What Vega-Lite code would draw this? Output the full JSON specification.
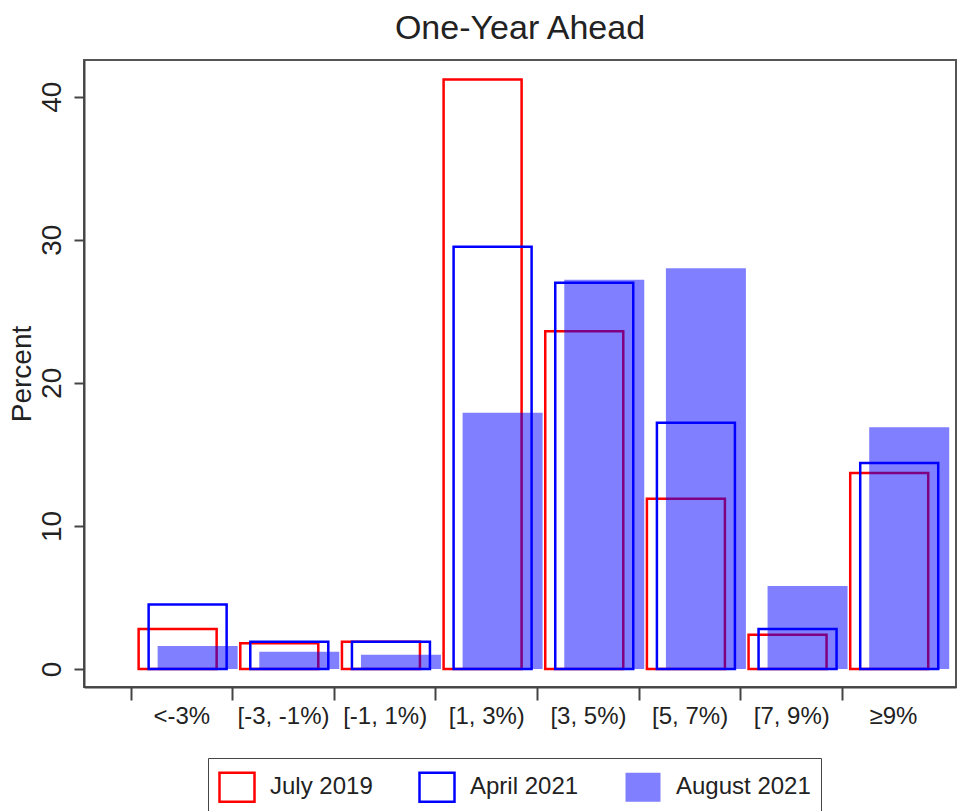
{
  "$schema": "https://vega.github.io/schema/vega-lite/v6.json",
  "width": 872,
  "height": 627,
  "autosize": {"type": "none"},
  "padding": {"left": 84, "top": 60, "right": 2, "bottom": 124},
  "background": "white",
  "title": {
    "text": "One-Year Ahead",
    "font": "Liberation Sans",
    "fontSize": 34,
    "fontWeight": "normal",
    "color": "#222222",
    "anchor": "middle",
    "offset": 14
  },
  "config": {
    "font": "Liberation Sans",
    "view": {"stroke": "#555555", "strokeWidth": 2}
  },
  "data": {
    "values": [
      {"bin": "<-3%", "survey": "July 2019", "percent": 2.8},
      {"bin": "[-3, -1%)", "survey": "July 2019", "percent": 1.8},
      {"bin": "[-1, 1%)", "survey": "July 2019", "percent": 1.9},
      {"bin": "[1, 3%)", "survey": "July 2019", "percent": 41.2},
      {"bin": "[3, 5%)", "survey": "July 2019", "percent": 23.6},
      {"bin": "[5, 7%)", "survey": "July 2019", "percent": 11.9},
      {"bin": "[7, 9%)", "survey": "July 2019", "percent": 2.4},
      {"bin": "≥9%", "survey": "July 2019", "percent": 13.7},
      {"bin": "<-3%", "survey": "April 2021", "percent": 4.5},
      {"bin": "[-3, -1%)", "survey": "April 2021", "percent": 1.9},
      {"bin": "[-1, 1%)", "survey": "April 2021", "percent": 1.9},
      {"bin": "[1, 3%)", "survey": "April 2021", "percent": 29.5},
      {"bin": "[3, 5%)", "survey": "April 2021", "percent": 27.0},
      {"bin": "[5, 7%)", "survey": "April 2021", "percent": 17.2},
      {"bin": "[7, 9%)", "survey": "April 2021", "percent": 2.8},
      {"bin": "≥9%", "survey": "April 2021", "percent": 14.4},
      {"bin": "<-3%", "survey": "August 2021", "percent": 1.6},
      {"bin": "[-3, -1%)", "survey": "August 2021", "percent": 1.2},
      {"bin": "[-1, 1%)", "survey": "August 2021", "percent": 1.0},
      {"bin": "[1, 3%)", "survey": "August 2021", "percent": 17.9},
      {"bin": "[3, 5%)", "survey": "August 2021", "percent": 27.2},
      {"bin": "[5, 7%)", "survey": "August 2021", "percent": 28.0},
      {"bin": "[7, 9%)", "survey": "August 2021", "percent": 5.8},
      {"bin": "≥9%", "survey": "August 2021", "percent": 16.9}
    ]
  },
  "encoding": {
    "x": {
      "field": "bin",
      "type": "nominal",
      "sort": ["<-3%", "[-3, -1%)", "[-1, 1%)", "[1, 3%)", "[3, 5%)", "[5, 7%)", "[7, 9%)", "≥9%"],
      "scale": {"paddingInner": 0, "paddingOuter": 0.289, "align": 0.8},
      "axis": {
        "title": null,
        "bandPosition": 0,
        "labelOffset": 0,
        "labelAngle": 0,
        "labelFontSize": 24,
        "labelColor": "#222222",
        "labelPadding": 4,
        "labelOverlap": false,
        "tickSize": 13,
        "tickWidth": 2,
        "tickColor": "#444444",
        "domainColor": "#444444",
        "domainWidth": 2,
        "grid": false
      }
    },
    "y": {
      "field": "percent",
      "type": "quantitative",
      "scale": {"domain": [-1.26, 42.56], "nice": false, "zero": false},
      "axis": {
        "title": "Percent",
        "titleFontSize": 28,
        "titleFontWeight": "normal",
        "titleColor": "#222222",
        "titlePadding": 2,
        "values": [0, 10, 20, 30, 40],
        "labelAngle": -90,
        "labelAlign": "center",
        "labelBaseline": "bottom",
        "labelFontSize": 28,
        "labelColor": "#222222",
        "labelPadding": 8,
        "tickSize": 10,
        "tickWidth": 2,
        "tickColor": "#444444",
        "domainColor": "#444444",
        "domainWidth": 2,
        "grid": false
      }
    },
    "y2": {"datum": 0},
    "stroke": {
      "field": "survey",
      "type": "nominal",
      "scale": {
        "domain": ["July 2019", "April 2021", "August 2021"],
        "range": ["#ff0000", "#0000ff", "transparent"]
      },
      "legend": {
        "orient": "none",
        "legendX": 124,
        "legendY": 698,
        "direction": "horizontal",
        "columns": 3,
        "title": null,
        "symbolType": "M-1,-0.83H1V0.83H-1Z",
        "symbolSize": 1225,
        "symbolStrokeWidth": 2.5,
        "labelFontSize": 24,
        "labelColor": "#222222",
        "labelOffset": 14,
        "columnPadding": 41,
        "padding": 10,
        "strokeColor": "#444444",
        "fillColor": "white"
      }
    },
    "fill": {
      "field": "survey",
      "type": "nominal",
      "scale": {
        "domain": ["July 2019", "April 2021", "August 2021"],
        "range": ["transparent", "transparent", "rgba(0,0,255,0.5)"]
      },
      "legend": {
        "orient": "none",
        "legendX": 124,
        "legendY": 698,
        "direction": "horizontal",
        "columns": 3,
        "title": null,
        "symbolType": "M-1,-0.83H1V0.83H-1Z",
        "symbolSize": 1225,
        "symbolStrokeWidth": 2.5,
        "labelFontSize": 24,
        "labelColor": "#222222",
        "labelOffset": 14,
        "columnPadding": 41,
        "padding": 10,
        "strokeColor": "#444444",
        "fillColor": "white"
      }
    }
  },
  "layer": [
    {
      "transform": [{"filter": "datum.survey === 'July 2019'"}],
      "mark": {"type": "bar", "width": 78, "xOffset": -4.2, "strokeWidth": 2.5}
    },
    {
      "transform": [{"filter": "datum.survey === 'April 2021'"}],
      "mark": {"type": "bar", "width": 78, "xOffset": 5.8, "strokeWidth": 2.5}
    },
    {
      "transform": [{"filter": "datum.survey === 'August 2021'"}],
      "mark": {"type": "bar", "width": 80, "xOffset": 15.8, "strokeWidth": 0}
    }
  ]
}
